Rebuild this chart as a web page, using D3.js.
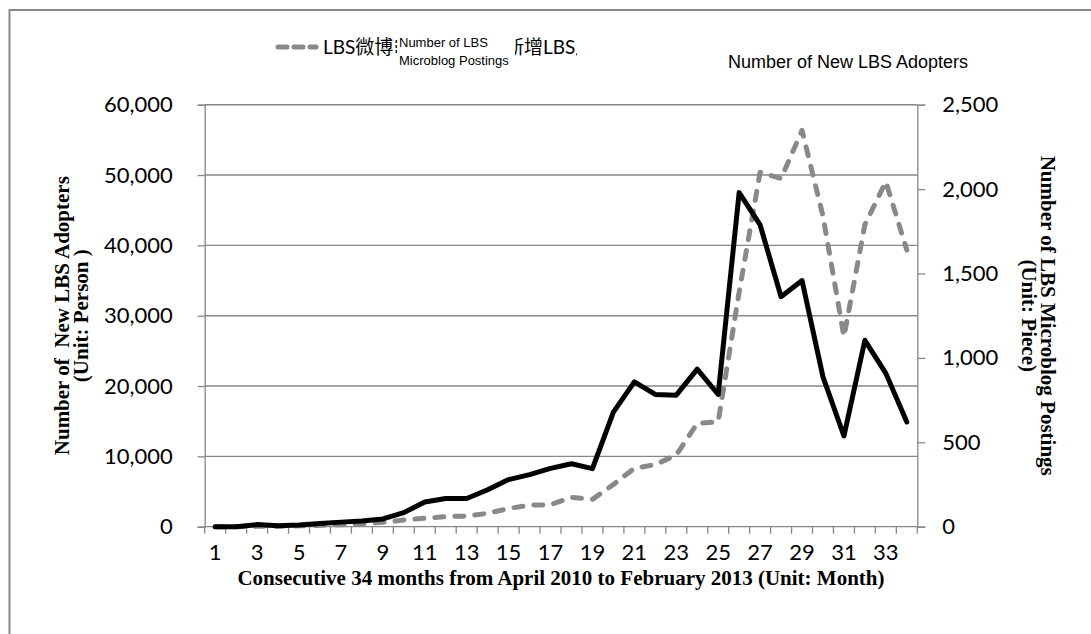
<!DOCTYPE html>
<html>
<head>
<meta charset="utf-8">
<script src="https://cdn.jsdelivr.net/npm/d3@7"></script>
<style>
  html, body { margin: 0; padding: 0; background: #fff; }
  svg { display: block; }
</style>
</head>
<body>
<svg id="chart" width="1091" height="634"></svg>
<script>
// Month index along the x axis (April 2010 = 1 ... February 2013 = 34)
const months = [1, 2, 3, 4, 5, 6, 7, 8, 9, 10, 11, 12, 13, 14, 15, 16, 17,
                18, 19, 20, 21, 22, 23, 24, 25, 26, 27, 28, 29, 30, 31, 32, 33, 34];

// New LBS adopters per month (persons, left axis)
const adopters = [0, 0, 300, 150, 250, 450, 650, 800, 1100, 2000, 3500, 4000,
                  4000, 5250, 6700, 7400, 8300, 8950, 8250, 16300, 20600, 18800,
                  18700, 22400, 18800, 47500, 42900, 32700, 35000, 21300, 12900,
                  26500, 21800, 14900];

// LBS microblog postings per month (pieces, right axis)
const postings = [0, 0, 2, 3, 5, 8, 12, 17, 26, 40, 50, 60, 63, 79, 108, 128,
                  130, 174, 162, 250, 346, 368, 425, 612, 622, 1390, 2100, 2062,
                  2348, 1840, 1126, 1790, 2044, 1639];

// Axis tick values
const leftTicks = [0, 10000, 20000, 30000, 40000, 50000, 60000];
const rightTicks = [0, 500, 1000, 1500, 2000, 2500];
const xTickLabels = [1, 3, 5, 7, 9, 11, 13, 15, 17, 19, 21, 23, 25, 27, 29, 31, 33];

const svg = d3.select("#chart");
const grey = "#878787";
const plot = { left: 204.7, right: 917.3, top: 104.7, bottom: 526.7 };

// outer frame (top and left edges)
svg.append("path")
  .attr("d", "M9.5,634 V10 H1091")
  .attr("fill", "none").attr("stroke", grey).attr("stroke-width", 2);

const x = d3.scaleBand().domain(months).range([plot.left, plot.right]);
const yL = d3.scaleLinear().domain([0, 60000]).range([plot.bottom, plot.top]);
const yR = d3.scaleLinear().domain([0, 2500]).range([plot.bottom, plot.top]);
const cx = m => x(m) + x.bandwidth() / 2;

// horizontal gridlines
svg.append("g").selectAll("line").data(leftTicks.slice(1)).join("line")
  .attr("x1", plot.left).attr("x2", plot.right)
  .attr("y1", d => yL(d)).attr("y2", d => yL(d))
  .attr("stroke", grey).attr("stroke-width", 1.4);

const tickFont = "Lato, 'Open Sans', sans-serif";

// left axis with minor ticks
const gL = svg.append("g").attr("transform", `translate(${plot.left},0)`);
gL.call(d3.axisLeft(yL).tickValues(d3.range(0, 60001, 2000)).tickSize(7).tickFormat(""));
gL.call(d3.axisLeft(yL).tickValues(leftTicks).tickSize(7).tickPadding(25)
  .tickFormat(d3.format(",")));
gL.selectAll("path, line").attr("stroke", grey).attr("stroke-width", 1.3);
gL.selectAll("text").attr("font-family", tickFont).attr("font-size", 22).attr("fill", "#000");

// right axis
const gR = svg.append("g").attr("transform", `translate(${plot.right},0)`);
gR.call(d3.axisRight(yR).tickValues(rightTicks).tickSize(8).tickPadding(17)
  .tickFormat(d3.format(",")));
gR.selectAll("path, line").attr("stroke", grey).attr("stroke-width", 1.3);
gR.selectAll("text").attr("font-family", tickFont).attr("font-size", 22).attr("fill", "#000");

// bottom axis: tick marks at category boundaries, labels on odd months
const gB = svg.append("g").attr("transform", `translate(0,${plot.bottom})`);
gB.append("line").attr("x1", plot.left).attr("x2", plot.right)
  .attr("stroke", grey).attr("stroke-width", 1.3);
gB.selectAll("line.tk").data(months).join("line").attr("class", "tk")
  .attr("x1", d => x(d)).attr("x2", d => x(d)).attr("y1", 0).attr("y2", 7)
  .attr("stroke", grey).attr("stroke-width", 1.3);
gB.append("line").attr("x1", plot.right).attr("x2", plot.right).attr("y1", 0).attr("y2", 7)
  .attr("stroke", grey).attr("stroke-width", 1.3);
gB.selectAll("text").data(xTickLabels).join("text")
  .attr("x", d => cx(d)).attr("y", 33)
  .attr("text-anchor", "middle")
  .attr("font-family", tickFont).attr("font-size", 22).text(d => d);

// series lines
const lineL = d3.line().x((d, i) => cx(months[i])).y(d => yL(d));
const lineR = d3.line().x((d, i) => cx(months[i])).y(d => yR(d));

svg.append("path").datum(postings).attr("d", lineR)
  .attr("fill", "none").attr("stroke", "#898989").attr("stroke-width", 5)
  .attr("stroke-dasharray", "9,11").attr("stroke-linecap", "round")
  .attr("stroke-linejoin", "round");

svg.append("path").datum(adopters).attr("d", lineL)
  .attr("fill", "none").attr("stroke", "#000").attr("stroke-width", 5)
  .attr("stroke-linejoin", "round").attr("stroke-linecap", "round");

// axis titles
const titleFont = "'Liberation Serif', 'Times New Roman', serif";
const midY = (plot.top + plot.bottom) / 2;
const tL = svg.append("g").attr("transform", `translate(69,${midY}) rotate(-90)`)
  .attr("font-family", titleFont).attr("font-weight", "bold").attr("font-size", 21)
  .attr("text-anchor", "middle");
tL.append("text").attr("y", 0).attr("xml:space", "preserve").text("Number of  New LBS Adopters");
tL.append("text").attr("y", 19).text("(Unit: Person )");

const tR = svg.append("g").attr("transform", `translate(1041,${midY}) rotate(90)`)
  .attr("font-family", titleFont).attr("font-weight", "bold").attr("font-size", 21)
  .attr("text-anchor", "middle");
tR.append("text").attr("y", 0).text("Number of LBS Microblog Postings");
tR.append("text").attr("y", 19).text("(Unit: Piece)");

svg.append("text").attr("x", 561).attr("y", 585)
  .attr("text-anchor", "middle")
  .attr("font-family", titleFont).attr("font-weight", "bold").attr("font-size", 21)
  .text("Consecutive 34 months from April 2010 to February 2013 (Unit: Month)");

// legend (the Chinese labels are partly covered by the English overlay boxes)
const defs = svg.append("defs");
defs.append("clipPath").attr("id", "clipB").append("rect")
  .attr("x", 515).attr("y", 25).attr("width", 62).attr("height", 34);

const lg = svg.append("g");
lg.append("line").attr("x1", 278).attr("x2", 316).attr("y1", 47).attr("y2", 47)
  .attr("stroke", "#898989").attr("stroke-width", 5)
  .attr("stroke-dasharray", "9,7").attr("stroke-linecap", "round");
const cjkFont = "Lato, 'Noto Sans CJK TC', sans-serif";
lg.append("text").attr("x", 323).attr("y", 54)
  .attr("font-family", cjkFont).attr("font-size", 19).text("LBS微博");
// sliver of the next, covered glyph
lg.selectAll("rect.sliver").data([40, 45, 50]).join("rect").attr("class", "sliver")
  .attr("x", 395.5).attr("y", d => d).attr("width", 1.6).attr("height", 3).attr("fill", "#222");
lg.append("text").attr("x", 399).attr("y", 47)
  .attr("font-family", "'Liberation Sans', Arial, sans-serif").attr("font-size", 13)
  .text("Number of LBS");
lg.append("text").attr("x", 399).attr("y", 65)
  .attr("font-family", "'Liberation Sans', Arial, sans-serif").attr("font-size", 13)
  .text("Microblog Postings");
lg.append("text").attr("x", 505).attr("y", 54).attr("clip-path", "url(#clipB)")
  .attr("font-family", cjkFont).attr("font-size", 19).text("新增LBS用戶");
lg.append("text").attr("x", 728).attr("y", 68)
  .attr("font-family", "'Liberation Sans', Arial, sans-serif").attr("font-size", 18)
  .text("Number of New LBS Adopters");
</script>
</body>
</html>
